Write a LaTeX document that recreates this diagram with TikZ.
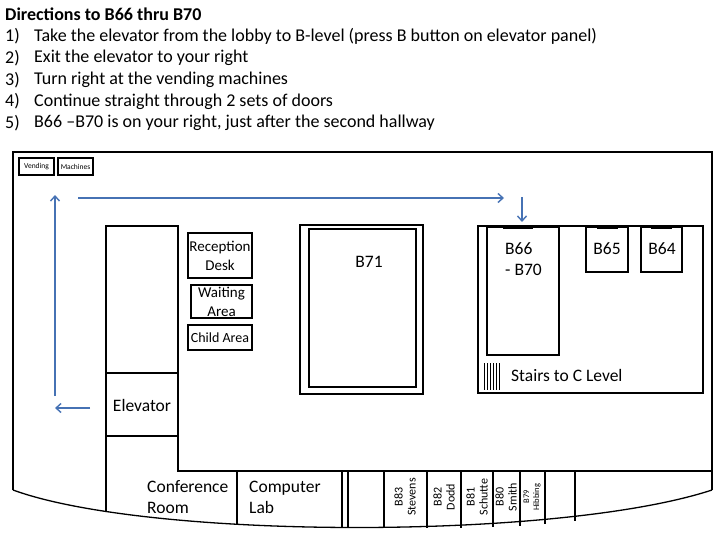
\documentclass[tikz,border=0pt]{standalone}
\usepackage{fontspec}
\setmainfont{Carlito}
\usetikzlibrary{arrows.meta}
\begin{document}
\begin{tikzpicture}[x=1pt,y=-1pt,
wall/.style={%
line width=1.3pt,
},
room/.style={%
draw,
line width=1.2pt,
},
door/.style={%
line width=2.6pt,
},
lbl/.style={%
font={\fontsize{17.5pt}{21}\selectfont},
align=left,
},
desk/.style={%
room,
font={\fontsize{15pt}{19}\selectfont},
align=center,
inner sep=0,
},
small/.style={%
font={\fontsize{7.5pt}{9}\selectfont},
inner sep=0,
},
side/.style={%
font={\fontsize{12pt}{13}\selectfont},
rotate=90,
align=center,
inner sep=0,
},
instr/.style={%
font={\fontsize{18pt}{21}\selectfont},
anchor=west,
inner sep=0,
},
route/.style={%
draw=routeblue,
line width=1.4pt,
-{Straight Barb[length=5pt,width=9pt]},
}
]
\definecolor{routeblue}{RGB}{70,114,180}
\useasboundingbox (0,0) rectangle (720,540);

%Directions
\node[instr,font={\fontsize{18pt}{21}\selectfont\bfseries}] (title) at (5,14) {Directions to B66 thru B70};
\foreach \n/\t in {1/{Take the elevator from the lobby to B-level (press B button on elevator panel)},
2/{Exit the elevator to your right},
3/{Turn right at the vending machines},
4/{Continue straight through 2 sets of doors},
5/{B66 --B70 is on your right, just after the second hallway}}{
\node[instr] (n\n) at (5,15+21.6*\n) {\n)};
\node[instr] (s\n) at (34,15+21.6*\n) {\t};
}

%Outer walls
\draw[wall] (13,490) -- (13,152) -- (712,152) -- (712,490);
\draw[wall] (13,490) .. controls (150,540) and (560,540) .. (712,490);

%Elevator column and corridor
\draw[room] (106,512) -- (106,226) -- (178,226) -- (178,471) -- (712,471);
\draw[room] (106,373) -- (178,373);
\draw[room] (106,436) -- (178,436);
\node[lbl] (elev) at (142,405) {Elevator};
\foreach \x/\yb in {237/524,342/527,348/527,384/528,427/528,461/528,493/527,520/526,545/524,575/521}
  \draw[room] (\x,471) -- (\x,\yb);
\node[lbl,anchor=west,inner sep=0] (conf) at (147,497) {Conference\\Room};
\node[lbl,anchor=west,inner sep=0] (lab) at (249,497) {Computer\\Lab};
\node[side] (b83) at (405,497) {B83\\Stevens};
\node[side] (b82) at (444,497) {B82\\Dodd};
\node[side] (b81) at (477,497) {B81\\Schutte};
\node[side] (b80) at (506,497) {B80\\Smith};
\node[side,font={\fontsize{8.5pt}{10}\selectfont}] (b79) at (532,497) {B79\\Hibbing};

%Vending
\node[room,small,minimum width=35pt,minimum height=17pt] (vend) at (36.5,166.5) {Vending};
\node[room,small,minimum width=35pt,minimum height=17pt] (mach) at (75.5,166.5) {Machines};

%Reception area
\node[desk,minimum width=64pt,minimum height=45pt] (recep) at (220,255.5) {Reception\\Desk};
\node[desk,minimum width=61pt,minimum height=33pt] (wait) at (221.5,301.5) {Waiting\\Area};
\node[desk,minimum width=64pt,minimum height=25pt,font={\fontsize{14pt}{17}\selectfont}] (child) at (220,337.5) {Child Area};

%B71
\draw[room] (300,225) rectangle (423,394);
\draw[room] (309,229) rectangle (416,387);
\draw[door] (343,229) -- (393,229);
\node[lbl] (b71) at (369,262) {B71};

%B64 - B70 block
\draw[room] (478,226) rectangle (703,393);
\draw[room] (487,227) rectangle (559,355);
\draw[door] (503,228) -- (533,228);
\node[lbl,anchor=west,inner sep=0] (b66) at (505,259) {B66\\- B70};
\draw[room] (586,227) rectangle (628,272);
\draw[door] (597,228) -- (618,228);
\node[lbl] (b65) at (607,249) {B65};
\draw[room] (641,227) rectangle (682,272);
\draw[door] (651,228) -- (672,228);
\node[lbl] (b64) at (662,249) {B64};
\foreach \x in {484,487,490,493,496,499}
  \draw[line width=0.9pt] (\x,363) -- (\x,390);
\node[lbl,anchor=west,inner sep=0] (stairs) at (511,375) {Stairs to C Level};

%Route
\coordinate (r1) at (90,408);
\coordinate (r2) at (55,408);
\coordinate (r3) at (55,396);
\coordinate (r4) at (55,195);
\coordinate (r5) at (78,198);
\coordinate (r6) at (504,198);
\coordinate (r7) at (522,197);
\coordinate (r8) at (522,222);
\draw[route] (r1) -- (r2);
\draw[route] (r3) -- (r4);
\draw[route] (r5) -- (r6);
\draw[route] (r7) -- (r8);
\end{tikzpicture}
\end{document}
